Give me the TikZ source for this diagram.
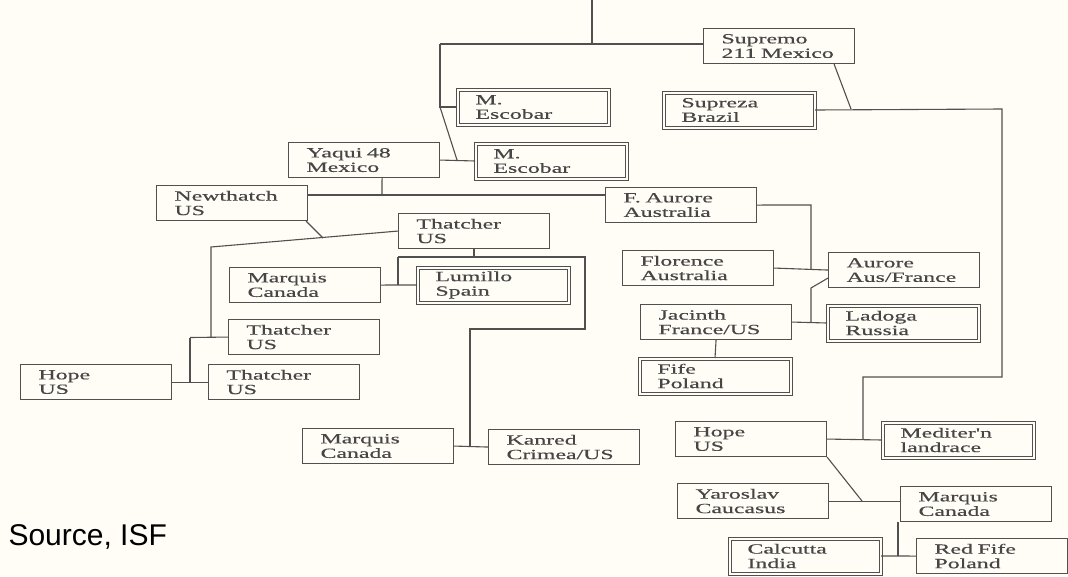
\documentclass[tikz,border=0pt]{standalone}
\usepackage{fontspec}
\usepackage{xcolor}
\usepackage{tikz}
\newfontfamily\boxfont[FakeStretch=1.7, FakeBold=0.5]{Liberation Serif}
\newfontfamily\srcfont{Liberation Sans}
\definecolor{paper}{RGB}{255,253,246}
\definecolor{linegray}{RGB}{80,80,80}
\definecolor{inkgray}{RGB}{70,70,70}
\tikzset{
  strain/.style={draw=linegray, line width=1.1pt, fill=paper, text=inkgray,
    anchor=north west, minimum height=35pt, text width=115pt,
    inner xsep=18pt, inner ysep=2pt, align=left,
    font={\boxfont\fontsize{14}{14.5}\selectfont}},
  landrace/.style={strain, double=paper, double distance=2pt, line width=1pt},
  link/.style={draw=linegray, line width=1.1pt}
}
\begin{document}
\begin{tikzpicture}[x=1pt, y=-1pt]
\fill[paper] (0,0) rectangle (1068,576);
\useasboundingbox (0,0) rectangle (1068,576);

\node[strain]   (supremo)   at (703,28)  {Supremo\\211 Mexico};
\node[landrace] (supreza)   at (663,92)  {Supreza\\Brazil};
\node[landrace] (escobarA)  at (457,89)  {M.\\Escobar};
\node[landrace] (escobarB)  at (475,143) {M.\\Escobar};
\node[strain]   (yaqui)     at (288,142) {Yaqui 48\\Mexico};
\node[strain]   (newthatch) at (156,185) {Newthatch\\US};
\node[strain]   (faurore)   at (605,187) {F. Aurore\\Australia};
\node[strain]   (thatcherA) at (398,213) {Thatcher\\US};
\node[strain]   (marquisA)  at (229,267) {Marquis\\Canada};
\node[landrace] (lumillo)   at (417,267) {Lumillo\\Spain};
\node[strain]   (thatcherB) at (228,319) {Thatcher\\US};
\node[strain]   (thatcherC) at (208,364) {Thatcher\\US};
\node[strain]   (hopeA)     at (20,364)  {Hope\\US};
\node[strain]   (marquisB)  at (302,428) {Marquis\\Canada};
\node[strain]   (kanred)    at (488,429) {Kanred\\Crimea/US};
\node[strain]   (florence)  at (622,250) {Florence\\Australia};
\node[strain]   (aurore)    at (828,252) {Aurore\\Aus/France};
\node[strain]   (jacinth)   at (640,304) {Jacinth\\France/US};
\node[landrace] (ladoga)    at (827,305) {Ladoga\\Russia};
\node[landrace] (fife)      at (639,358) {Fife\\Poland};
\node[strain]   (hopeB)     at (675,421) {Hope\\US};
\node[landrace] (mediter)   at (882,422) {Mediter'n\\landrace};
\node[strain]   (yaroslav)  at (677,483) {Yaroslav\\Caucasus};
\node[strain]   (marquisC)  at (900,486) {Marquis\\Canada};
\node[landrace] (calcutta)  at (729,538) {Calcutta\\India};
\node[strain]   (redfife)   at (916,538) {Red Fife\\Poland};

\node[anchor=base west, font={\srcfont\fontsize{30}{32}\selectfont}] (source) at (5,545) {Source, ISF};

\coordinate (T) at (592,0);
\coordinate (Tj) at (592,44);
\coordinate (L) at (440,44);
\coordinate (Le) at (440,107);
\coordinate (Ly) at (457,160);
\coordinate (S) at (851,109);
\coordinate (R) at (1002,109);
\coordinate (Rb) at (1002,377);
\coordinate (Rc) at (863,377);
\coordinate (Rm) at (863,439);
\coordinate (Y) at (382,195);
\coordinate (N) at (323,238);
\coordinate (V) at (211,247);
\coordinate (Vb) at (211,337.5);
\coordinate (H) at (190,337.5);
\coordinate (Hc) at (190,382);
\coordinate (A) at (474,257);
\coordinate (Al) at (398,257);
\coordinate (Am) at (398,284.5);
\coordinate (Ar) at (585,257);
\coordinate (Ad) at (585,329);
\coordinate (Ak) at (470,329);
\coordinate (Kj) at (470,446);
\coordinate (F) at (811,205);
\coordinate (Fl) at (811,269);
\coordinate (G) at (811,288);
\coordinate (Gj) at (811,322);
\coordinate (P) at (862,501);
\coordinate (Q) at (898,556);

\draw[link] (T) -- (Tj);
\draw[link] (L) -- (L -| supremo.west);
\draw[link] (L) -- (Le) -- (Le -| escobarA.west);
\draw[link] (Le) -- (Ly);
\draw[link] (yaqui.east) -- (escobarB.west);
\draw[link] ([xshift=-21pt]supremo.south east) -- (S);
\draw[link] (supreza.east) -- (R) -- (Rb) -- (Rc) -- (Rm);
\draw[link] (hopeB.east) -- (mediter.west);
\draw[link] ([xshift=18pt]yaqui.south) -- (Y);
\draw[link] (newthatch.east |- Y) -- (faurore.west |- Y);
\draw[link] ([xshift=-2pt]newthatch.south east) -- (N);
\draw[link] (thatcherA.west) -- (V) -- (Vb);
\draw[link] (H) -- (thatcherB.west);
\draw[link] (H) -- (Hc);
\draw[link] (hopeA.east) -- (thatcherC.west);
\draw[link] (A |- thatcherA.south) -- (A);
\draw[link] (Al) -- (Ar) -- (Ad) -- (Ak) -- (Kj);
\draw[link] (Al) -- (Am);
\draw[link] (marquisA.east) -- (lumillo.west);
\draw[link] (marquisB.east) -- (kanred.west);
\draw[link] (faurore.east) -- (F) -- (Fl);
\draw[link] (florence.east) -- (aurore.west);
\draw[link] ([yshift=-8pt]aurore.west) -- (G) -- (Gj);
\draw[link] (jacinth.east) -- (ladoga.west);
\draw[link] (jacinth.south) -- (fife.north);
\draw[link] (hopeB.south east) -- (P);
\draw[link] (yaroslav.east) -- (yaroslav.east -| marquisC.west);
\draw[link] ([xshift=-2pt]marquisC.south west) -- (Q);
\draw[link] (calcutta.east) -- (redfife.west);
\end{tikzpicture}
\end{document}
